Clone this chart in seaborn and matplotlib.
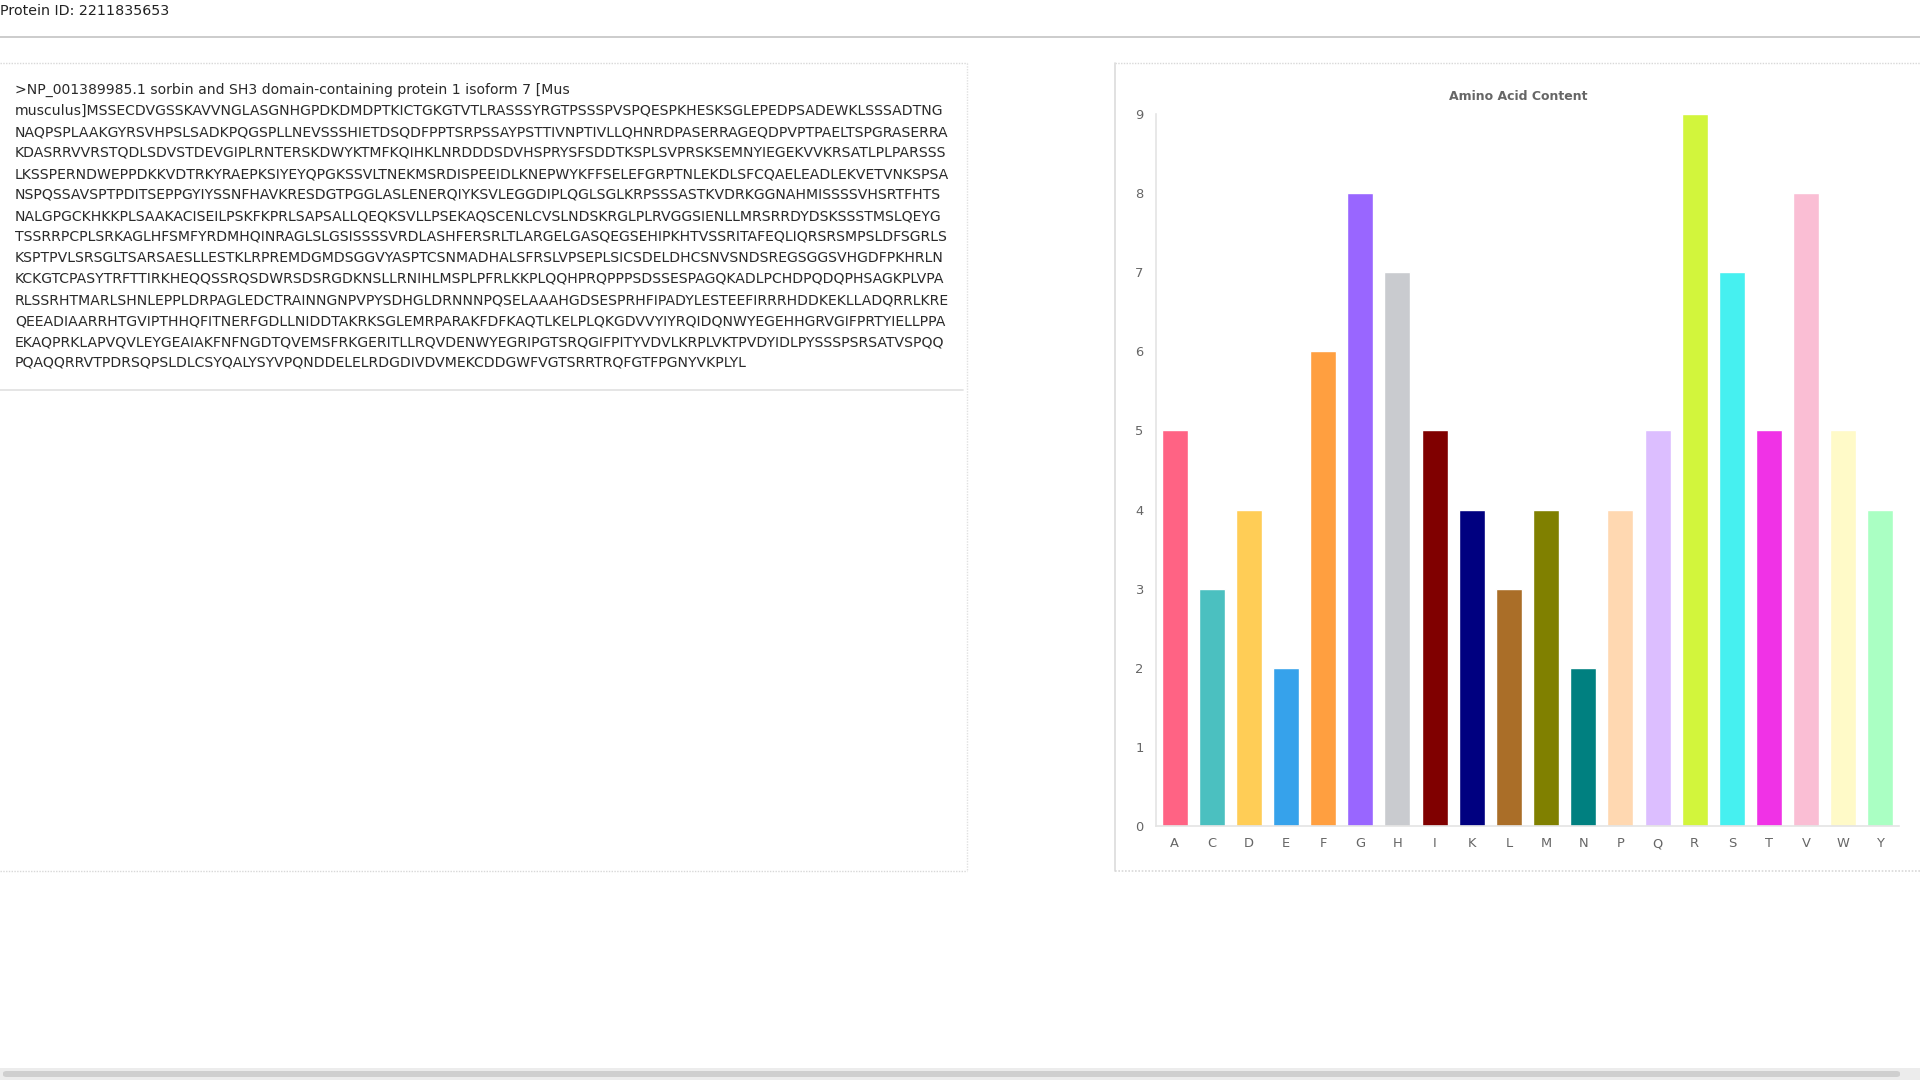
import matplotlib
matplotlib.use("Agg")

import matplotlib.pyplot as plt
import seaborn as sns
import pandas as pd
from matplotlib.patches import Rectangle, FancyBboxPatch
from matplotlib.lines import Line2D

# data
protein_id = "2211835653"
fasta_lines = [
    ">NP_001389985.1 sorbin and SH3 domain-containing protein 1 isoform 7 [Mus",
    "musculus]MSSECDVGSSKAVVNGLASGNHGPDKDMDPTKICTGKGTVTLRASSSYRGTPSSSPVSPQESPKHESKSGLEPEDPSADEWKLSSSADTNG",
    "NAQPSPLAAKGYRSVHPSLSADKPQGSPLLNEVSSSHIETDSQDFPPTSRPSSAYPSTTIVNPTIVLLQHNRDPASERRAGEQDPVPTPAELTSPGRASERRA",
    "KDASRRVVRSTQDLSDVSTDEVGIPLRNTERSKDWYKTMFKQIHKLNRDDDSDVHSPRYSFSDDTKSPLSVPRSKSEMNYIEGEKVVKRSATLPLPARSSS",
    "LKSSPERNDWEPPDKKVDTRKYRAEPKSIYEYQPGKSSVLTNEKMSRDISPEEIDLKNEPWYKFFSELEFGRPTNLEKDLSFCQAELEADLEKVETVNKSPSA",
    "NSPQSSAVSPTPDITSEPPGYIYSSNFHAVKRESDGTPGGLASLENERQIYKSVLEGGDIPLQGLSGLKRPSSSASTKVDRKGGNAHMISSSSVHSRTFHTS",
    "NALGPGCKHKKPLSAAKACISEILPSKFKPRLSAPSALLQEQKSVLLPSEKAQSCENLCVSLNDSKRGLPLRVGGSIENLLMRSRRDYDSKSSSTMSLQEYG",
    "TSSRRPCPLSRKAGLHFSMFYRDMHQINRAGLSLGSISSSSVRDLASHFERSRLTLARGELGASQEGSEHIPKHTVSSRITAFEQLIQRSRSMPSLDFSGRLS",
    "KSPTPVLSRSGLTSARSAESLLESTKLRPREMDGMDSGGVYASPTCSNMADHALSFRSLVPSEPLSICSDELDHCSNVSNDSREGSGGSVHGDFPKHRLN",
    "KCKGTCPASYTRFTTIRKHEQQSSRQSDWRSDSRGDKNSLLRNIHLMSPLPFRLKKPLQQHPRQPPPSDSSESPAGQKADLPCHDPQDQPHSAGKPLVPA",
    "RLSSRHTMARLSHNLEPPLDRPAGLEDCTRAINNGNPVPYSDHGLDRNNNPQSELAAAHGDSESPRHFIPADYLESTEEFIRRRHDDKEKLLADQRRLKRE",
    "QEEADIAARRHTGVIPTHHQFITNERFGDLLNIDDTAKRKSGLEMRPARAKFDFKAQTLKELPLQKGDVVYIYRQIDQNWYEGEHHGRVGIFPRTYIELLPPA",
    "EKAQPRKLAPVQVLEYGEAIAKFNFNGDTQVEMSFRKGERITLLRQVDENWYEGRIPGTSRQGIFPITYVDVLKRPLVKTPVDYIDLPYSSSPSRSATVSPQQ",
    "PQAQQRRVTPDRSQPSLDLCSYQALYSYVPQNDDELELRDGDIVDVMEKCDDGWFVGTSRRTRQFGTFPGNYVKPLYL",
]

amino_acids = ["A", "C", "D", "E", "F", "G", "H", "I", "K", "L",
               "M", "N", "P", "Q", "R", "S", "T", "V", "W", "Y"]
counts = [5, 3, 4, 2, 6, 8, 7, 5, 4, 3,
          4, 2, 4, 5, 9, 7, 5, 8, 5, 4]
bar_colors = ["#ff6384", "#4bc0c0", "#ffcd56", "#36a2eb", "#ff9f40",
              "#9966ff", "#c9cbcf", "#800000", "#000080", "#aa6e28",
              "#808000", "#008080", "#ffd8b1", "#dcbeff", "#d2f53c",
              "#46f0f0", "#f032e6", "#fabed4", "#fffac8", "#aaffc3"]

W, H = 1920, 1080


def fx(px):
    return px / W


def fy(py):
    return 1 - py / H


sns.set_style("white")
plt.rcParams["font.family"] = ["DejaVu Sans"]

fig = plt.figure(figsize=(19.2, 10.8), dpi=100)
fig.patch.set_facecolor("white")

# page header
fig.text(fx(0), fy(11), f"Protein ID: {protein_id}", fontsize=10.3,
         color="#222222", va="center", ha="left")
fig.add_artist(Line2D([0, 1], [fy(37), fy(37)], color="#c8c8c8", lw=1.3))

# left panel (sequence text)
fig.add_artist(Line2D([0, fx(967)], [fy(63), fy(63)], color="#d8d8d8",
                      lw=1, ls=(0, (1, 1))))
fig.add_artist(Line2D([fx(967), fx(967)], [fy(63), fy(871)], color="#e0e0e0",
                      lw=1, ls=(0, (1, 1))))
fig.add_artist(Line2D([0, fx(967)], [fy(871), fy(871)], color="#d8d8d8",
                      lw=1, ls=(0, (1, 1))))
fig.add_artist(Line2D([0, fx(963)], [fy(390), fy(390)], color="#e0e0e0", lw=1.2))

line_top = 90
line_step = 21
for i, line in enumerate(fasta_lines):
    fig.text(fx(15), fy(line_top + i * line_step), line, fontsize=10.1,
             color="#2a2a2a", va="center", ha="left")

# right panel border
fig.add_artist(Line2D([fx(1115), 1], [fy(63), fy(63)], color="#d8d8d8",
                      lw=1, ls=(0, (1, 1))))
fig.add_artist(Line2D([fx(1115), fx(1115)], [fy(63), fy(871)], color="#dcdcdc", lw=1.2))
fig.add_artist(Line2D([fx(1115), 1], [fy(871), fy(871)], color="#d8d8d8",
                      lw=1.2, ls=(0, (1, 1))))

# chart
df = pd.DataFrame({"aa": amino_acids, "count": counts})
ax = fig.add_axes([fx(1156), fy(826), fx(1899) - fx(1156), fy(114) - fy(826)])
sns.barplot(data=df, x="aa", y="count", hue="aa", palette=bar_colors,
            width=0.7, legend=False, saturation=1, ax=ax)
ax.set_xlim(-0.5, len(amino_acids) - 0.5)
ax.set_ylim(0, 9)
ax.set_yticks(range(0, 10))
ax.set_xlabel("")
ax.set_ylabel("")
ax.tick_params(axis="both", length=0, labelsize=9.4, labelcolor="#666666")
ax.tick_params(axis="y", pad=9)
ax.tick_params(axis="x", pad=8)
sns.despine(ax=ax)
for side in ["left", "bottom"]:
    ax.spines[side].set_color("#e4e4e4")
    ax.spines[side].set_linewidth(1.2)
ax.grid(False)

fig.text(fx(1518), fy(96), "Amino Acid Content", fontsize=9,
         fontweight="bold", color="#666666", ha="center", va="center")

# scrollbar at the bottom
fig.add_artist(Rectangle((0, 0), 1, 12 / H, transform=fig.transFigure,
                         facecolor="#ececec", edgecolor="none"))
fig.add_artist(FancyBboxPatch((fx(3), fy(1077)), fx(1900) - fx(3), 6 / H,
                              boxstyle="round,pad=0,rounding_size=0.002",
                              transform=fig.transFigure,
                              facecolor="#cfcfcf", edgecolor="none"))

fig.savefig("out.png", dpi=100)
